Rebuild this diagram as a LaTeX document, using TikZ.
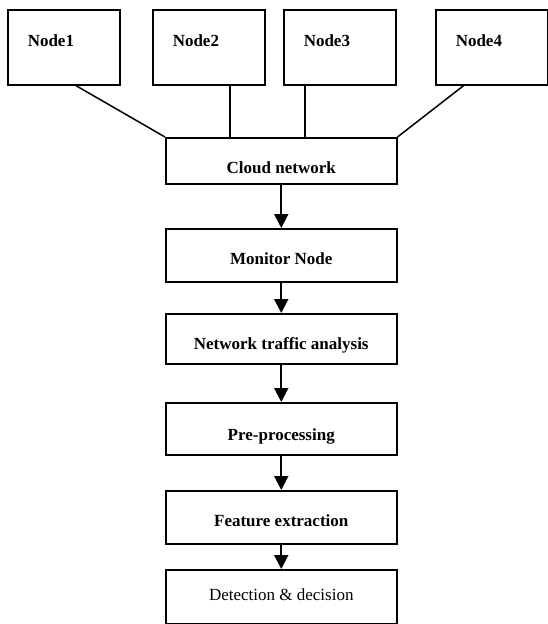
\documentclass[tikz,border=0pt]{standalone}
\usepackage{fontspec}
\setmainfont{Liberation Serif}
\usepackage{tikz}
\usetikzlibrary{arrows.meta,calc,positioning}

\begin{document}
\begin{tikzpicture}[
    x=1pt, y=-1pt,
    hostbox/.style={draw, line width=1.5pt, anchor=north west, align=left, text width=72pt,
      inner xsep=20pt, inner ysep=0pt, text height=37pt, text depth=38pt,
      font=\fontsize{17}{20}\selectfont\bfseries},
    flowbox/.style={draw, line width=1.5pt, anchor=north west, align=center, minimum width=231pt,
      inner xsep=0pt, inner ysep=0pt, text height=36pt, text depth=15pt,
      font=\fontsize{17}{20}\selectfont\bfseries},
    linkline/.style={line width=1.5pt},
    flowarrow/.style={-{Triangle[length=14pt,width=14pt]}, line width=2pt}
  ]
    \useasboundingbox (0,0) rectangle (548,624);
    \node[hostbox] (host1) at (7,9) {Node1};
    \node[hostbox] (host2) at (152,9) {Node2};
    \node[hostbox] (host3) at (283,9) {Node3};
    \node[hostbox] (host4) at (435,9) {Node4};
    \node[flowbox, text depth=10pt] (cloud) at (165,137) {Cloud network};
    \node[flowbox, text depth=17pt] (monitor) at (165,228) {Monitor Node};
    \node[flowbox, text depth=14pt] (traffic) at (165,313) {Network traffic analysis};
    \node[flowbox, text height=38pt, text depth=14pt] (preproc) at (165,402) {Pre-processing};
    \node[flowbox, text depth=17pt] (features) at (165,490) {Feature extraction};
    \node[flowbox, text height=31pt, text depth=23pt, font=\fontsize{17}{20}\selectfont] (decision) at (165,569) {Detection \& decision};
    \draw[linkline] ([xshift=12pt]host1.south) -- (cloud.north west);
    \draw[linkline] ([xshift=21pt]host2.south) -- ([xshift=21pt]host2.south |- cloud.north);
    \draw[linkline] ([xshift=-35pt]host3.south) -- ([xshift=-35pt]host3.south |- cloud.north);
    \draw[linkline] ([xshift=-28pt]host4.south) -- (cloud.north east);
    \draw[flowarrow] (cloud) -- (monitor);
    \draw[flowarrow] (monitor) -- (traffic);
    \draw[flowarrow] (traffic) -- (preproc);
    \draw[flowarrow] (preproc) -- (features);
    \draw[flowarrow] (features) -- (decision);
  \end{tikzpicture}
\end{document}
